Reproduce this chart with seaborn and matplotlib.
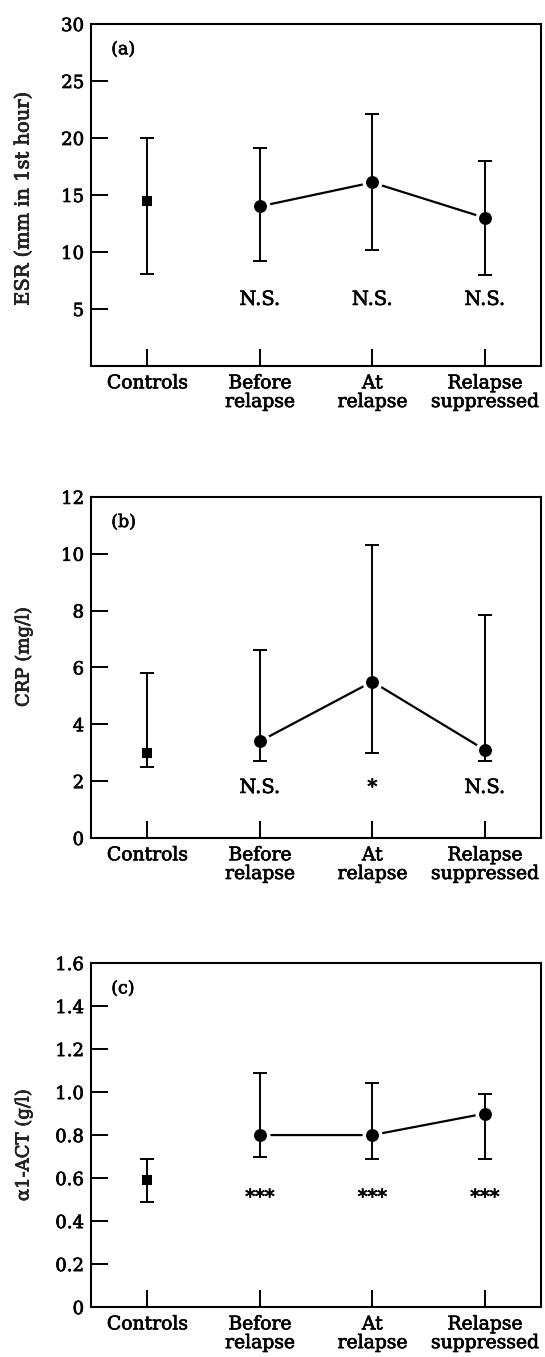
import numpy as np
import pandas as pd
import matplotlib
matplotlib.use("Agg")
import matplotlib.pyplot as plt
import matplotlib.patheffects as pe
import seaborn as sns

categories = ["Controls", "Before\nrelapse", "At\nrelapse", "Relapse\nsuppressed"]
groups = ["control", "patient", "patient", "patient"]

esr_mean = [14.5, 14.0, 16.1, 13.0]
esr_lower = [8.1, 9.2, 10.2, 8.0]
esr_upper = [20.0, 19.1, 22.1, 18.0]
esr_sig = ["", "N.S.", "N.S.", "N.S."]

crp_mean = [3.0, 3.4, 5.5, 3.1]
crp_lower = [2.5, 2.7, 3.0, 2.7]
crp_upper = [5.8, 6.6, 10.3, 7.85]
crp_sig = ["", "N.S.", "*", "N.S."]

act_mean = [0.59, 0.80, 0.80, 0.90]
act_lower = [0.49, 0.70, 0.69, 0.69]
act_upper = [0.69, 1.09, 1.04, 0.99]
act_sig = ["", "***", "***", "***"]

esr_ticks = [5, 10, 15, 20, 25, 30]
crp_ticks = [0, 2, 4, 6, 8, 10, 12]
act_ticks = [0, 0.2, 0.4, 0.6, 0.8, 1.0, 1.2, 1.4, 1.6]
act_ticklabels = ["0", "0.2", "0.4", "0.6", "0.8", "1.0", "1.2", "1.4", "1.6"]

sns.set_style("ticks")
plt.rcParams["font.family"] = ["DejaVu Serif"]
plt.rcParams["axes.linewidth"] = 1.5
plt.rcParams["text.color"] = "black"

# scanned print looks a bit heavier than the plain serif
heavy = [pe.withStroke(linewidth=0.5, foreground="black")]


def draw_panel(ax, mean, lower, upper, sig, letter, ylabel, ylim, yticks,
               yticklabels, sig_y, ylabel_y, ylabel_size):
    x = np.arange(len(categories))
    df = pd.DataFrame({"x": x, "mean": mean, "group": groups})
    pat = df[df["group"] == "patient"]
    ctl = df[df["group"] == "control"]

    sns.lineplot(data=pat, x="x", y="mean", color="black", linewidth=1.6,
                 ax=ax, zorder=1)
    sns.scatterplot(data=pat, x="x", y="mean", marker="o", s=140, color="black",
                    edgecolor="white", linewidth=2.5, ax=ax, zorder=2)
    sns.scatterplot(data=ctl, x="x", y="mean", marker="s", s=45, color="black",
                    linewidth=0, ax=ax, zorder=2)
    m = np.array(mean)
    yerr = [m - np.array(lower), np.array(upper) - m]
    ax.errorbar(x, m, yerr=yerr, fmt="none", ecolor="black", elinewidth=1.4,
                capsize=5, capthick=1.4, zorder=3)

    for xi, s in zip(x, sig):
        if s:
            ax.text(xi, sig_y, s, ha="center", va="center", fontsize=14,
                    path_effects=heavy)

    ax.text(0.045, 0.925, letter, transform=ax.transAxes, ha="left",
            va="center", fontsize=12.5, path_effects=heavy)

    ax.set_xlim(-0.5, 3.5)
    ax.set_ylim(*ylim)
    ax.set_xticks(x)
    ax.set_xticklabels(categories, fontsize=13.5, linespacing=1.05)
    ax.set_yticks(yticks)
    ax.set_yticklabels(yticklabels, fontsize=13)
    ax.tick_params(axis="both", direction="in", length=12, width=1.4,
                   colors="black")
    ax.tick_params(axis="x", pad=6)
    ax.tick_params(axis="y", pad=5)
    ax.set_xlabel("")
    ax.set_ylabel(ylabel, fontsize=ylabel_size, path_effects=heavy)
    ax.yaxis.set_label_coords(-0.13, ylabel_y)
    for lab in ax.get_xticklabels() + ax.get_yticklabels():
        lab.set_path_effects(heavy)
    for sp in ax.spines.values():
        sp.set_color("black")
        sp.set_linewidth(1.5)


fig = plt.figure(figsize=(5.45, 13.57), dpi=100)
left, width = 0.167, 0.8257
ax_a = fig.add_axes([left, 0.7303, width, 0.252])
ax_b = fig.add_axes([left, 0.3825, width, 0.2513])
ax_c = fig.add_axes([left, 0.0368, width, 0.2535])

draw_panel(ax_a, esr_mean, esr_lower, esr_upper, esr_sig, "(a)",
           "ESR (mm in 1st hour)", (0, 30), esr_ticks,
           [str(t) for t in esr_ticks], 5.8, 0.49, 14)
draw_panel(ax_b, crp_mean, crp_lower, crp_upper, crp_sig, "(b)",
           "CRP (mg/l)", (0, 12), crp_ticks,
           [str(t) for t in crp_ticks], 1.76, 0.53, 13)
draw_panel(ax_c, act_mean, act_lower, act_upper, act_sig, "(c)",
           "α1-ACT (g/l)", (0, 1.6), act_ticks, act_ticklabels, 0.507, 0.47, 13)

fig.savefig("out.png", dpi=100, facecolor="white")
